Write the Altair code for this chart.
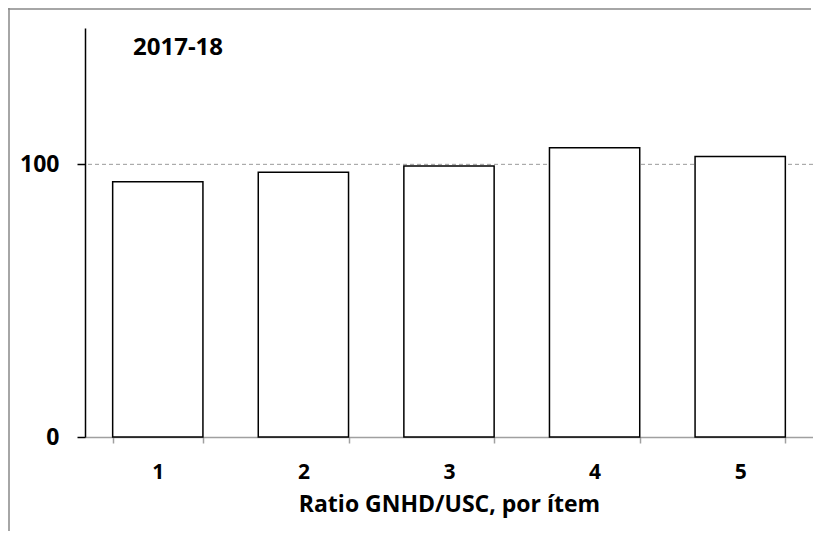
import altair as alt
import pandas as pd

categories = ["1", "2", "3", "4", "5"]
values = [93.6, 97.1, 99.4, 106.1, 102.9]
reference = [100]
y_ticks = [0, 100]
panel_title = ["2017-18"]
x_title = "Ratio GNHD/USC, por ítem"

df = pd.DataFrame({"item": categories, "value": values})
ref_df = pd.DataFrame({"ref": reference})
title_df = pd.DataFrame({"t": panel_title})

FONT = "Open Sans"
yscale = alt.Scale(domain=[0, 150], nice=False)
yaxis = alt.Axis(
    values=y_ticks, grid=False, domainColor="black", domainWidth=1.5,
    tickColor="black", tickSize=8, tickWidth=1.5,
    labelFont=FONT, labelFontSize=23, labelFontWeight="bold",
    labelColor="black", labelPadding=18, title=None,
)

rule = alt.Chart(ref_df).mark_rule(
    strokeDash=[4, 3], color="#9a9a9a", strokeWidth=1
).encode(y=alt.Y("ref:Q", scale=yscale, axis=yaxis))

bars = alt.Chart(df).mark_bar(
    fill="white", stroke="black", strokeWidth=1.5
).encode(
    x=alt.X(
        "item:O",
        scale=alt.Scale(paddingInner=0.38, paddingOuter=0.19),
        axis=alt.Axis(
            labelAngle=0, tickBand="extent", domainColor="#a0a0a0",
            tickColor="#a0a0a0", tickSize=6, domainWidth=1.5, tickWidth=1.5,
            labelFont=FONT, labelFontSize=21, labelFontWeight="bold",
            labelColor="black", labelPadding=18,
            title=x_title, titleFont=FONT, titleFontSize=23,
            titleFontWeight="bold", titleColor="black", titlePadding=11,
        ),
    ),
    y=alt.Y("value:Q", scale=yscale, axis=yaxis),
)

title_text = alt.Chart(title_df).mark_text(
    font=FONT, fontSize=24, fontWeight="bold", color="black",
    align="left", baseline="alphabetic",
).encode(text="t:N", x=alt.value(48), y=alt.value(27))

frame_top = alt.Chart(ref_df).mark_rule(
    color="#888888", strokeWidth=1.5, strokeCap="butt"
).encode(
    x=alt.value(-77), x2=alt.value(726), y=alt.value(-19), y2=alt.value(-19)
)
frame_left = alt.Chart(ref_df).mark_rule(color="#888888", strokeWidth=1.5).encode(
    x=alt.value(-76), y=alt.value(-20), y2=alt.value(600)
)

chart = alt.layer(rule, bars, title_text, frame_top, frame_left).properties(
    width=728, height=409,
    autosize="none",
    padding={"left": 77, "top": 20, "right": 0, "bottom": 94},
).configure_view(stroke=None)

chart.save("out.html", embed_options={"renderer": "svg", "actions": False})
